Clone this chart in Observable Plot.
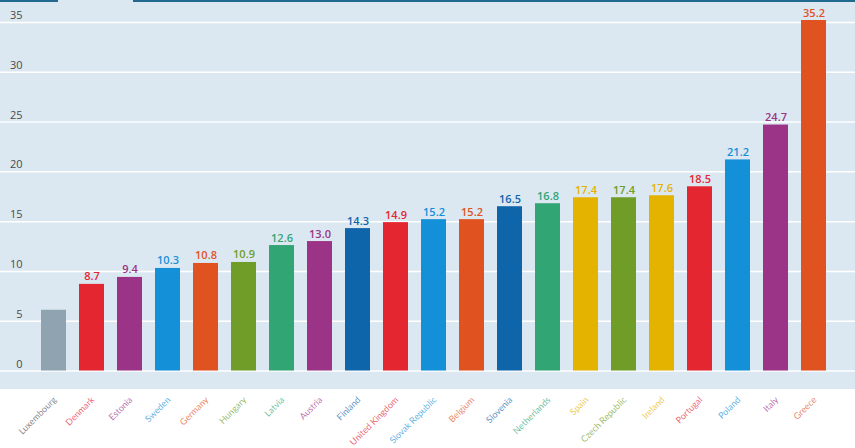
<!DOCTYPE html>
<html>
<head>
<meta charset="utf-8">
<script src="https://cdn.jsdelivr.net/npm/d3@7"></script>
<script src="https://cdn.jsdelivr.net/npm/@observablehq/plot@0.6"></script>
<style>
  html, body { margin: 0; padding: 0; background: #fff; }
  #wrap { position: relative; width: 855px; height: 448px; overflow: hidden; }
  .tab { position: absolute; top: 0; height: 2px; background: #21698f; }
</style>
</head>
<body>
<div id="wrap">
  <div id="chart"></div>
  <div class="tab" style="left:0;width:58px;"></div>
  <div class="tab" style="left:133px;width:722px;"></div>
</div>
<script>
const countries = ["Luxembourg","Denmark","Estonia","Sweden","Germany","Hungary","Latvia","Austria","Finland","United Kingdom","Slovak Republic","Belgium","Slovenia","Netherlands","Spain","Czech Republic","Ireland","Portugal","Poland","Italy","Greece"];
const values = [6.1, 8.7, 9.4, 10.3, 10.8, 10.9, 12.6, 13.0, 14.3, 14.9, 15.2, 15.2, 16.5, 16.8, 17.4, 17.4, 17.6, 18.5, 21.2, 24.7, 35.2];
const colors = ["#8fa3b0","#e3262f","#9b3386","#1490d8","#e0521f","#6f9d28","#32a574","#9b3386","#0f65aa","#e3262f","#1490d8","#e0521f","#0f65aa","#32a574","#e3b300","#6f9d28","#e3b300","#e3262f","#1490d8","#9b3386","#e0521f"];
const labelColors = ["#555555","#e3262f","#9b3386","#1490d8","#e0521f","#6f9d28","#32a574","#9b3386","#0f65aa","#e3262f","#1490d8","#e0521f","#0f65aa","#32a574","#e3b300","#6f9d28","#e3b300","#e3262f","#1490d8","#9b3386","#e0521f"];
const yTicks = [0, 5, 10, 15, 20, 25, 30, 35];
const unlabelled = ["Luxembourg"];

const data = countries.map((c, i) => ({country: c, value: values[i], color: colors[i], labelColor: labelColors[i]}));

const chart = Plot.plot({
  width: 855,
  height: 448,
  marginTop: 0, marginRight: 0, marginBottom: 0, marginLeft: 0,
  style: {
    background: "linear-gradient(#dce8f1 0px, #dce8f1 389px, #ffffff 389px)",
    fontFamily: "'Open Sans', sans-serif"
  },
  x: {domain: countries, range: [28, 839], padding: 0.342, axis: null},
  y: {domain: [0, 35], range: [370.5, 22], axis: null},
  marks: [
    Plot.ruleY(yTicks, {y: d => d, stroke: "#ffffff", strokeWidth: 1.5}),
    Plot.text(yTicks, {y: d => d, text: d => String(d), frameAnchor: "left", dx: 22, dy: -7, textAnchor: "end", fill: "#4a4a4a", fontSize: 11}),
    Plot.barY(data, {x: "country", y: "value", fill: "color"}),
    Plot.text(data.filter(d => !unlabelled.includes(d.country)), {
      x: "country", y: "value", text: d => d.value.toFixed(1),
      fill: "color", fontWeight: 600, fontSize: 11, lineAnchor: "bottom", dy: -4
    }),
    Plot.text(data, {
      x: "country", text: "country", frameAnchor: "bottom", dy: -48, dx: 3,
      rotate: -45, textAnchor: "end", fill: "labelColor", fillOpacity: 0.72, fontSize: 9,
      fontFamily: "Lato, sans-serif"
    })
  ]
});
document.getElementById("chart").appendChild(chart);
</script>
</body>
</html>
